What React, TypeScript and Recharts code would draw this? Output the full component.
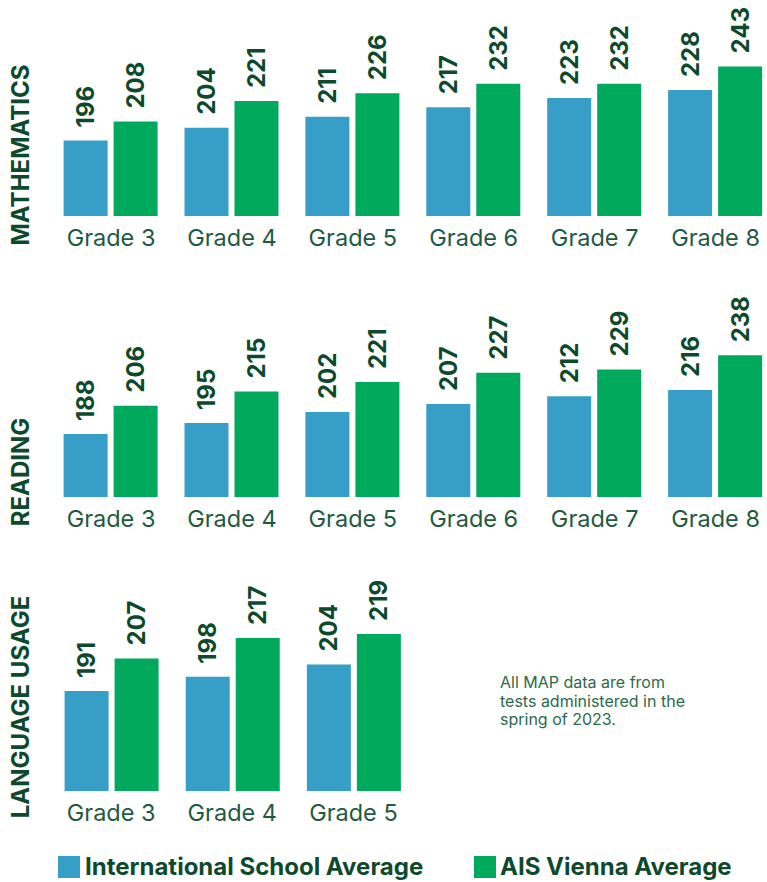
import React from 'react';
import { BarChart, Bar, XAxis, YAxis, LabelList } from 'recharts';

const grades = ['Grade 3', 'Grade 4', 'Grade 5', 'Grade 6', 'Grade 7', 'Grade 8'];
const mathIntl = [196, 204, 211, 217, 223, 228];
const mathAis = [208, 221, 226, 232, 232, 243];
const readIntl = [188, 195, 202, 207, 212, 216];
const readAis = [206, 215, 221, 227, 229, 238];
const langGrades = ['Grade 3', 'Grade 4', 'Grade 5'];
const langIntl = [191, 198, 204];
const langAis = [207, 217, 219];

const BLUE = '#379fc7';
const GREEN = '#00a95c';
const DARK = '#0d4a2d';
const MID = '#1f5a43';
const FONT = 'Inter, "Noto Sans", sans-serif';

const rows = (cats: string[], a: number[], b: number[]) =>
  cats.map((g, i) => ({ grade: g, intl: a[i], ais: b[i] }));

function ValueLabel(props: any) {
  const { x, y, width, value } = props;
  const cx = x + width / 2;
  const cy = y - 13;
  return (
    <text
      x={cx}
      y={cy}
      transform={`rotate(-90, ${cx}, ${cy})`}
      textAnchor="start"
      dominantBaseline="central"
      fontFamily={FONT}
      fontWeight={700}
      fontSize={24}
      fill={DARK}
    >
      {value}
    </text>
  );
}

function Panel({ data, top, width, domain }: { data: any[]; top: number; width: number; domain: [number, number] }) {
  return (
    <div style={{ position: 'absolute', left: 0, top }}>
      <BarChart
        width={width}
        height={260}
        data={data}
        margin={{ top: 0, right: 0, bottom: 0, left: 50.6 }}
        barSize={44}
        barGap={6}
      >
        <XAxis
          dataKey="grade"
          height={44}
          axisLine={false}
          tickLine={false}
          tickMargin={7}
          interval={0}
          tick={{ fontSize: 23.5, fill: MID, fontFamily: FONT }}
        />
        <YAxis hide domain={domain} allowDataOverflow />
        <Bar dataKey="intl" fill={BLUE} isAnimationActive={false}>
          <LabelList dataKey="intl" content={<ValueLabel />} />
        </Bar>
        <Bar dataKey="ais" fill={GREEN} isAnimationActive={false}>
          <LabelList dataKey="ais" content={<ValueLabel />} />
        </Bar>
      </BarChart>
    </div>
  );
}

function Title({ text, x, y }: { text: string; x: number; y: number }) {
  return (
    <div
      style={{
        position: 'absolute',
        left: x,
        top: y,
        transform: 'translate(-50%, -50%) rotate(-90deg)',
        whiteSpace: 'nowrap',
        fontFamily: FONT,
        fontWeight: 700,
        fontSize: 24,
        color: DARK,
        lineHeight: 1,
      }}
    >
      {text}
    </div>
  );
}

export default function App() {
  return (
    <div style={{ position: 'absolute', left: 0, top: 0, width: 767, height: 882, overflow: 'hidden', background: '#fff' }}>
      <Panel data={rows(grades, mathIntl, mathAis)} top={0} width={776} domain={[148, 285.2]} />
      <Panel data={rows(grades, readIntl, readAis)} top={281} width={776} domain={[148, 285.2]} />
      <Panel data={rows(langGrades, langIntl, langAis)} top={575} width={414} domain={[142, 247.9]} />

      <Title text="MATHEMATICS" x={21} y={155} />
      <Title text="READING" x={21} y={472} />
      <Title text="LANGUAGE USAGE" x={21} y={707} />

      <div
        style={{
          position: 'absolute',
          left: 500,
          top: 673,
          fontFamily: FONT,
          fontSize: 16,
          lineHeight: '18.5px',
          color: '#2b6a4c',
        }}
      >
        All MAP data are from
        <br />
        tests administered in the
        <br />
        spring of 2023.
      </div>

      <div style={{ position: 'absolute', left: 58, top: 856, width: 22, height: 22, background: BLUE }} />
      <div
        style={{ position: 'absolute', left: 85, top: 853, fontFamily: FONT, fontWeight: 700, fontSize: 24, lineHeight: '28px', color: DARK, whiteSpace: 'nowrap' }}
      >
        International School Average
      </div>
      <div style={{ position: 'absolute', left: 474, top: 856, width: 22, height: 22, background: GREEN }} />
      <div
        style={{ position: 'absolute', left: 500, top: 853, fontFamily: FONT, fontWeight: 700, fontSize: 24, lineHeight: '28px', color: DARK, whiteSpace: 'nowrap' }}
      >
        AIS Vienna Average
      </div>
    </div>
  );
}
